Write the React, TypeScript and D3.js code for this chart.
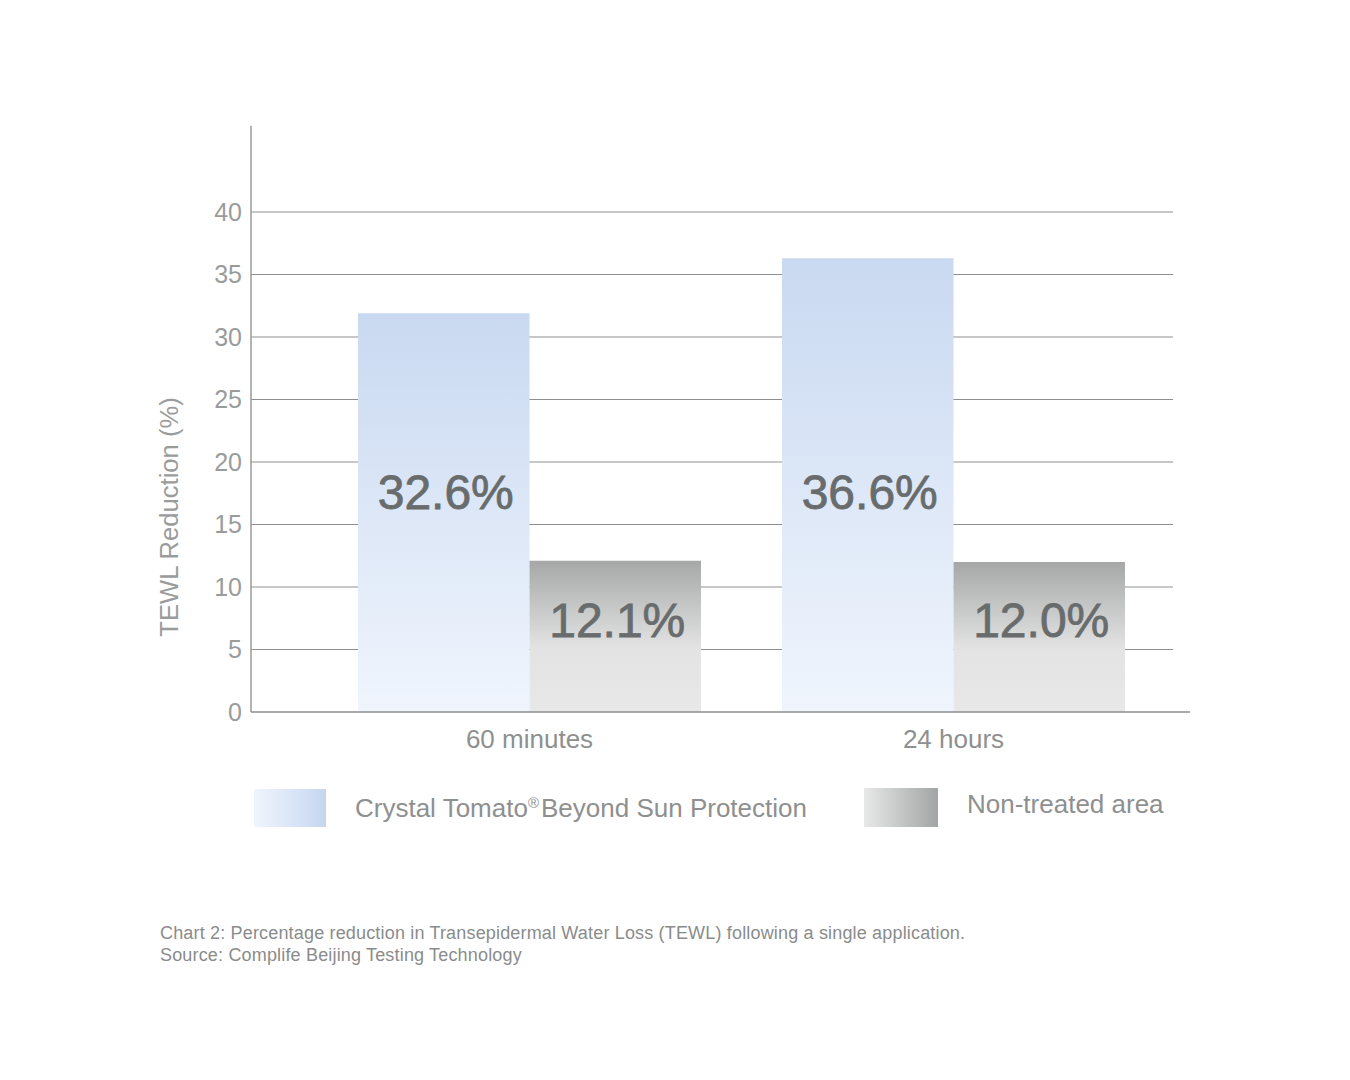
import * as d3 from 'd3';
import { useEffect, useRef } from 'react';

const categories = ['60 minutes', '24 hours'];
const seriesKeys = ['treated', 'untreated'];
const seriesNames = ['Crystal Tomato', 'Non-treated area'];
const treatedValues = [31.9, 36.3];
const untreatedValues = [12.1, 12.0];
const treatedLabels = ['32.6%', '36.6%'];
const untreatedLabels = ['12.1%', '12.0%'];
// where the value label sits, in axis units, per series
const labelLevels = [17.6, 7.4];
const yTicks = [0, 5, 10, 15, 20, 25, 30, 35, 40];
const yAxisTop = 46.9;

const FONT = '"Liberation Sans", Arial, Helvetica, sans-serif';

export default function App() {
  const svgRef = useRef<SVGSVGElement>(null);

  useEffect(() => {
    document.body.style.margin = '0';
    if (!svgRef.current) return;
    const svg = d3.select(svgRef.current);
    svg.selectAll('*').remove();

    const y = d3.scaleLinear().domain([0, 40]).range([712, 212]);
    const x0 = d3
      .scaleBand()
      .domain(categories)
      .range([358, 1125])
      .paddingInner(0.191)
      .paddingOuter(0);
    const x1 = d3.scaleBand().domain(seriesKeys).range([0, x0.bandwidth()]);

    const defs = svg.append('defs');
    const blue = defs
      .append('linearGradient')
      .attr('id', 'blueBar')
      .attr('x1', 0)
      .attr('y1', 0)
      .attr('x2', 0)
      .attr('y2', 1);
    blue.append('stop').attr('offset', '0%').attr('stop-color', '#c9d9f1');
    blue.append('stop').attr('offset', '100%').attr('stop-color', '#f0f5fd');

    const grey = defs
      .append('linearGradient')
      .attr('id', 'greyBar')
      .attr('x1', 0)
      .attr('y1', 0)
      .attr('x2', 0)
      .attr('y2', 1);
    grey.append('stop').attr('offset', '0%').attr('stop-color', '#a6a8a8');
    grey.append('stop').attr('offset', '58%').attr('stop-color', '#e3e3e3');
    grey.append('stop').attr('offset', '100%').attr('stop-color', '#e8e8e8');

    const blueH = defs
      .append('linearGradient')
      .attr('id', 'blueSwatch')
      .attr('x1', 0)
      .attr('y1', 0)
      .attr('x2', 1)
      .attr('y2', 0);
    blueH.append('stop').attr('offset', '0%').attr('stop-color', '#f0f5fd');
    blueH.append('stop').attr('offset', '100%').attr('stop-color', '#c6d6f0');

    const greyH = defs
      .append('linearGradient')
      .attr('id', 'greySwatch')
      .attr('x1', 0)
      .attr('y1', 0)
      .attr('x2', 1)
      .attr('y2', 0);
    greyH.append('stop').attr('offset', '0%').attr('stop-color', '#e8e8e8');
    greyH.append('stop').attr('offset', '100%').attr('stop-color', '#a2a5a5');

    // Grid lines
    svg
      .append('g')
      .selectAll('line')
      .data(yTicks.filter((t) => t > 0))
      .enter()
      .append('line')
      .attr('x1', 251)
      .attr('x2', 1173)
      .attr('y1', (d) => y(d))
      .attr('y2', (d) => y(d))
      .attr('stroke', '#8d8f8f')
      .attr('stroke-width', 1.2);

    // Bars
    const rows = categories.map((c, i) => ({
      category: c,
      values: [
        { key: 'treated', value: treatedValues[i], label: treatedLabels[i], level: labelLevels[0] },
        { key: 'untreated', value: untreatedValues[i], label: untreatedLabels[i], level: labelLevels[1] },
      ],
    }));

    const groups = svg
      .append('g')
      .selectAll('g')
      .data(rows)
      .enter()
      .append('g')
      .attr('transform', (d) => `translate(${x0(d.category)},0)`);

    groups
      .selectAll('rect')
      .data((d) => d.values)
      .enter()
      .append('rect')
      .attr('x', (d) => x1(d.key) || 0)
      .attr('y', (d) => y(d.value))
      .attr('width', x1.bandwidth())
      .attr('height', (d) => y(0) - y(d.value))
      .attr('fill', (d) => (d.key === 'treated' ? 'url(#blueBar)' : 'url(#greyBar)'));

    groups
      .selectAll('text')
      .data((d) => d.values)
      .enter()
      .append('text')
      .attr('x', (d) => (x1(d.key) || 0) + x1.bandwidth() / 2 + 2)
      .attr('y', (d) => y(d.level))
      .attr('dy', '0.36em')
      .attr('text-anchor', 'middle')
      .style('font-family', FONT)
      .style('font-size', '48px')
      .style('fill', '#686c6d')
      .style('stroke', '#686c6d')
      .style('stroke-width', '0.8px')
      .text((d) => d.label);

    // Baseline
    svg
      .append('line')
      .attr('x1', 251)
      .attr('x2', 1190)
      .attr('y1', y(0))
      .attr('y2', y(0))
      .attr('stroke', '#8d8f8f')
      .attr('stroke-width', 1.5);

    // Y axis
    const yAxis = svg
      .append('g')
      .attr('transform', 'translate(251,0)')
      .call(d3.axisLeft(y).tickValues(yTicks).tickSize(0).tickPadding(9));
    yAxis.select('.domain').remove();
    yAxis
      .selectAll('text')
      .style('font-family', FONT)
      .style('font-size', '25px')
      .style('fill', '#9a9c9c');
    svg
      .append('line')
      .attr('x1', 251)
      .attr('x2', 251)
      .attr('y1', y(yAxisTop))
      .attr('y2', y(0))
      .attr('stroke', '#999b9b')
      .attr('stroke-width', 1.5);

    svg
      .append('text')
      .attr('transform', `translate(178,${y(15.6)}) rotate(-90)`)
      .attr('text-anchor', 'middle')
      .style('font-family', FONT)
      .style('font-size', '25.6px')
      .style('fill', '#9a9c9c')
      .text('TEWL Reduction (%)');

    // X axis labels
    const xAxis = svg
      .append('g')
      .attr('transform', `translate(0,${y(0)})`)
      .call(d3.axisBottom(x0).tickSize(0).tickPadding(18));
    xAxis.select('.domain').remove();
    xAxis
      .selectAll('text')
      .style('font-family', FONT)
      .style('font-size', '26px')
      .style('fill', '#8e9090');

    // Legend
    const legend = svg.append('g');
    legend
      .append('rect')
      .attr('x', 254)
      .attr('y', 789)
      .attr('width', 72)
      .attr('height', 38)
      .attr('fill', 'url(#blueSwatch)');
    const t1 = legend
      .append('text')
      .attr('x', 355)
      .attr('y', 817)
      .style('font-family', FONT)
      .style('font-size', '26px')
      .style('fill', '#8e9090');
    t1.append('tspan').text(seriesNames[0]);
    t1.append('tspan').attr('dy', -9).style('font-size', '15px').text('®');
    t1.append('tspan').attr('dy', 9).attr('dx', 2).text('Beyond Sun Protection');

    legend
      .append('rect')
      .attr('x', 864)
      .attr('y', 788)
      .attr('width', 74)
      .attr('height', 39)
      .attr('fill', 'url(#greySwatch)');
    legend
      .append('text')
      .attr('x', 967)
      .attr('y', 813)
      .style('font-family', FONT)
      .style('font-size', '26px')
      .style('fill', '#8e9090')
      .text(seriesNames[1]);

    // Caption
    const caption = svg
      .append('text')
      .style('font-family', FONT)
      .style('font-size', '18px')
      .style('letter-spacing', '0.17px')
      .style('fill', '#8a8c8c');
    caption
      .append('tspan')
      .attr('x', 160)
      .attr('y', 939)
      .text('Chart 2: Percentage reduction in Transepidermal Water Loss (TEWL) following a single application.');
    caption
      .append('tspan')
      .attr('x', 160)
      .attr('y', 961)
      .text('Source: Complife Beijing Testing Technology');
  }, []);

  return (
    <svg ref={svgRef} width={1350} height={1080} style={{ display: 'block', background: '#fff' }} />
  );
}
